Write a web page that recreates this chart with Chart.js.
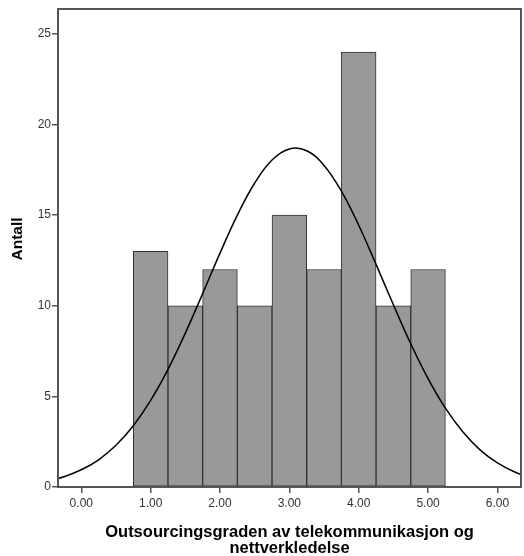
<!DOCTYPE html>
<html lang="no">
<head>
    <meta charset="UTF-8">
    <title>Histogram</title>
    <style>
        html, body {
            margin: 0;
            padding: 0;
            background: #ffffff;
        }

        .chart-container {
            position: relative;
            width: 524px;
            height: 556px;
        }
    </style>
</head>
<body>
    <div class="chart-container">
        <canvas id="histChart"></canvas>
    </div>

    <script src="https://cdn.jsdelivr.net/npm/chart.js"></script>
    <script>
        // Histogram bins (centre of each 0.5-wide bin) and counts
        const binCenters = [1.0, 1.5, 2.0, 2.5, 3.0, 3.5, 4.0, 4.5, 5.0];
        const binCounts = [13, 10, 12, 10, 15, 12, 24, 10, 12];

        // Fitted normal curve, sampled every 0.25
        const curveX = [-0.5, -0.25, 0, 0.25, 0.5, 0.75, 1.0, 1.25, 1.5, 1.75, 2.0, 2.25, 2.5, 2.75,
            3.0, 3.25, 3.5, 3.75, 4.0, 4.25, 4.5, 4.75, 5.0, 5.25, 5.5, 5.75, 6.0, 6.25, 6.5];
        const curveY = [0.33, 0.57, 0.95, 1.50, 2.30, 3.38, 4.78, 6.49, 8.49, 10.67, 12.90, 15.00, 16.77, 18.04,
            18.65, 18.55, 17.74, 16.32, 14.44, 12.28, 10.05, 7.90, 5.98, 4.35, 3.05, 2.05, 1.33, 0.83, 0.49];

        const xTicks = [0, 1, 2, 3, 4, 5, 6];
        const yTicks = [0, 5, 10, 15, 20, 25];

        const xTitle = ['Outsourcingsgraden av telekommunikasjon og', 'nettverkledelse'];
        const yTitle = 'Antall';

        const axisColor = '#555555';
        const fontFamily = "'Liberation Sans', Arial, sans-serif";

        // frame round the plot area and the rotated y title
        const framePlugin = {
            id: 'frame',
            afterDatasetsDraw(chart) {
                const { ctx, chartArea } = chart;
                ctx.save();
                ctx.strokeStyle = axisColor;
                ctx.lineWidth = 2;
                ctx.strokeRect(chartArea.left, chartArea.top, chartArea.right - chartArea.left, chartArea.bottom - chartArea.top);
                ctx.restore();
            },
            afterDraw(chart) {
                const { ctx } = chart;
                ctx.save();
                ctx.translate(18, 239);
                ctx.rotate(-Math.PI / 2);
                ctx.font = 'bold 15.5px ' + fontFamily;
                ctx.fillStyle = '#000000';
                ctx.textAlign = 'center';
                ctx.textBaseline = 'middle';
                ctx.fillText(yTitle, 0, 0);
                ctx.restore();
            }
        };

        const ctx = document.getElementById('histChart').getContext('2d');

        new Chart(ctx, {
            type: 'bar',
            data: {
                datasets: [{
                    type: 'line',
                    data: curveX.map((x, i) => ({ x: x, y: curveY[i] })),
                    borderColor: '#000000',
                    borderWidth: 1.5,
                    pointRadius: 0,
                    tension: 0.4,
                    fill: false,
                    order: 0
                }, {
                    type: 'bar',
                    data: binCenters.map((x, i) => ({ x: x, y: binCounts[i] })),
                    backgroundColor: '#999999',
                    borderColor: '#333333',
                    borderWidth: 1,
                    borderSkipped: false,
                    barPercentage: 1.0,
                    categoryPercentage: 1.0,
                    order: 1
                }]
            },
            options: {
                responsive: true,
                maintainAspectRatio: false,
                animation: false,
                layout: {
                    padding: { top: 9, right: 3, left: 0, bottom: 0 }
                },
                plugins: {
                    legend: { display: false },
                    tooltip: { enabled: false }
                },
                scales: {
                    x: {
                        type: 'linear',
                        min: -0.336,
                        max: 6.34,
                        offset: false,
                        afterBuildTicks: (scale) => {
                            scale.ticks = xTicks.map(v => ({ value: v }));
                        },
                        afterFit: (scale) => {
                            scale.height = 69;
                        },
                        grid: {
                            offset: false,
                            drawOnChartArea: false,
                            drawTicks: true,
                            tickLength: 6,
                            color: axisColor,
                            lineWidth: 1.5
                        },
                        border: { display: false },
                        ticks: {
                            color: '#333333',
                            font: { family: fontFamily, size: 12 },
                            padding: 3,
                            maxRotation: 0,
                            callback: (v) => v.toFixed(2)
                        },
                        title: {
                            display: true,
                            text: xTitle,
                            color: '#000000',
                            font: { family: fontFamily, size: 16.5, weight: 'bold', lineHeight: 0.95 },
                            padding: { top: 9, bottom: 0 }
                        }
                    },
                    y: {
                        type: 'linear',
                        min: 0,
                        max: 26.37,
                        afterBuildTicks: (scale) => {
                            scale.ticks = yTicks.map(v => ({ value: v }));
                        },
                        afterFit: (scale) => {
                            scale.width = 58;
                        },
                        grid: {
                            offset: false,
                            drawOnChartArea: false,
                            drawTicks: true,
                            tickLength: 6,
                            color: axisColor,
                            lineWidth: 1.5
                        },
                        border: { display: false },
                        ticks: {
                            color: '#333333',
                            font: { family: fontFamily, size: 12 },
                            padding: 1
                        }
                    }
                }
            },
            plugins: [framePlugin]
        });
    </script>
</body>
</html>
